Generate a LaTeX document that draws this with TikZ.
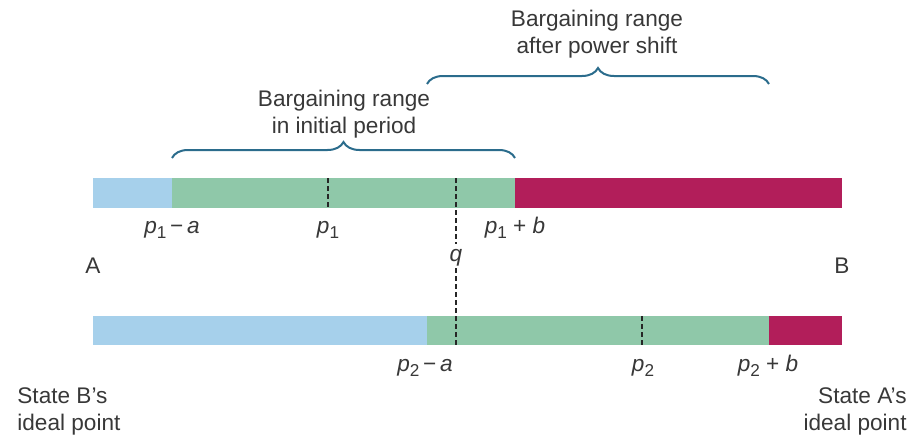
\documentclass[tikz,border=0pt]{standalone}
\usepackage{fontspec}
\setmainfont{Liberation Sans}
\usepackage{tikz}
\usetikzlibrary{positioning,decorations.pathreplacing}
\definecolor{stateb}{HTML}{A6D0EB}
\definecolor{rangegreen}{HTML}{8FC8A9}
\definecolor{statea}{HTML}{B21E5A}
\definecolor{bracecol}{HTML}{2B6C8C}
\definecolor{textgray}{HTML}{383838}
\tikzset{
  every node/.style={font=\fontsize{11.3}{13.5}\selectfont, text=textgray, inner sep=0pt},
  tick/.style={draw=black!85, line width=1pt, dash pattern=on 2.6pt off 1.4pt},
  qline/.style={draw=black!85, line width=1pt, dash pattern=on 2.6pt off 1.4pt},
  rangebrace/.style={draw=bracecol, line width=1pt, decorate, decoration={brace, amplitude=8pt}},
  rangelabel/.style={align=center},
  pointlabel/.style={anchor=base},
  endlabel/.style={align=left}
}
\newcommand{\pv}[1]{\textit{p}\raisebox{-0.45ex}{\fontsize{8.6}{9}\selectfont #1}}

\begin{document}
\begin{tikzpicture}[x=0.5pt,y=-0.5pt]
  \useasboundingbox (0,0) rectangle (917,439);

  % top bar: initial period
  \coordinate (t0) at (93,178);
  \coordinate (t1) at (172,178);
  \coordinate (t2) at (515,178);
  \coordinate (t3) at (842,178);
  \fill[stateb] (t0) rectangle (172,208);
  \fill[rangegreen] (t1) rectangle (515,208);
  \fill[statea] (t2) rectangle (842,208);
  \draw[tick] (328,178) -- (328,208);

  % bottom bar: after power shift
  \coordinate (b0) at (93,316);
  \coordinate (b1) at (427,316);
  \coordinate (b2) at (769,316);
  \coordinate (b3) at (842,316);
  \fill[stateb] (b0) rectangle (427,345);
  \fill[rangegreen] (b1) rectangle (769,345);
  \fill[statea] (b2) rectangle (842,345);
  \draw[tick] (642,316) -- (642,345);

  % status quo
  \node[pointlabel] (q) at (456,261) {\textit{q}};
  \coordinate (qtop) at (456,178);
  \coordinate (qbot) at (456,345);
  \draw[qline] (qtop) -- ([yshift=2pt]q.north);
  \draw[qline] ([yshift=-1pt]q.south) -- (qbot);

  % braces
  \coordinate (br1a) at (172,158);
  \coordinate (br1b) at (515,158);
  \coordinate (br2a) at (427,84);
  \coordinate (br2b) at (769,84);
  \draw[rangebrace] (br1a) -- (br1b);
  \draw[rangebrace] (br2a) -- (br2b);
  \node[rangelabel] (initial) at (344,114) {Bargaining range\\in initial period};
  \node[rangelabel] (shift) at (597,34) {Bargaining range\\after power shift};

  % labels, top bar
  \node[pointlabel] (p1a) at (172,233) {\pv{1}\,−\,\textit{a}};
  \node[pointlabel] (p1) at (328,233) {\pv{1}};
  \node[pointlabel] (p1b) at (515,233) {\pv{1} + \textit{b}};
  \node[pointlabel] (A) at (93,273) {A};
  \node[pointlabel] (B) at (842,273) {B};

  % labels, bottom bar
  \node[pointlabel] (p2a) at (425,371) {\pv{2}\,−\,\textit{a}};
  \node[pointlabel] (p2) at (643,371) {\pv{2}};
  \node[pointlabel] (p2b) at (768,371) {\pv{2} + \textit{b}};

  % ideal points
  \node[endlabel, anchor=west] (idealB) at (17,411) {State B’s\\ideal point};
  \node[align=right, anchor=east] (idealA) at (907,411) {State A’s\\ideal point};
\end{tikzpicture}
\end{document}
